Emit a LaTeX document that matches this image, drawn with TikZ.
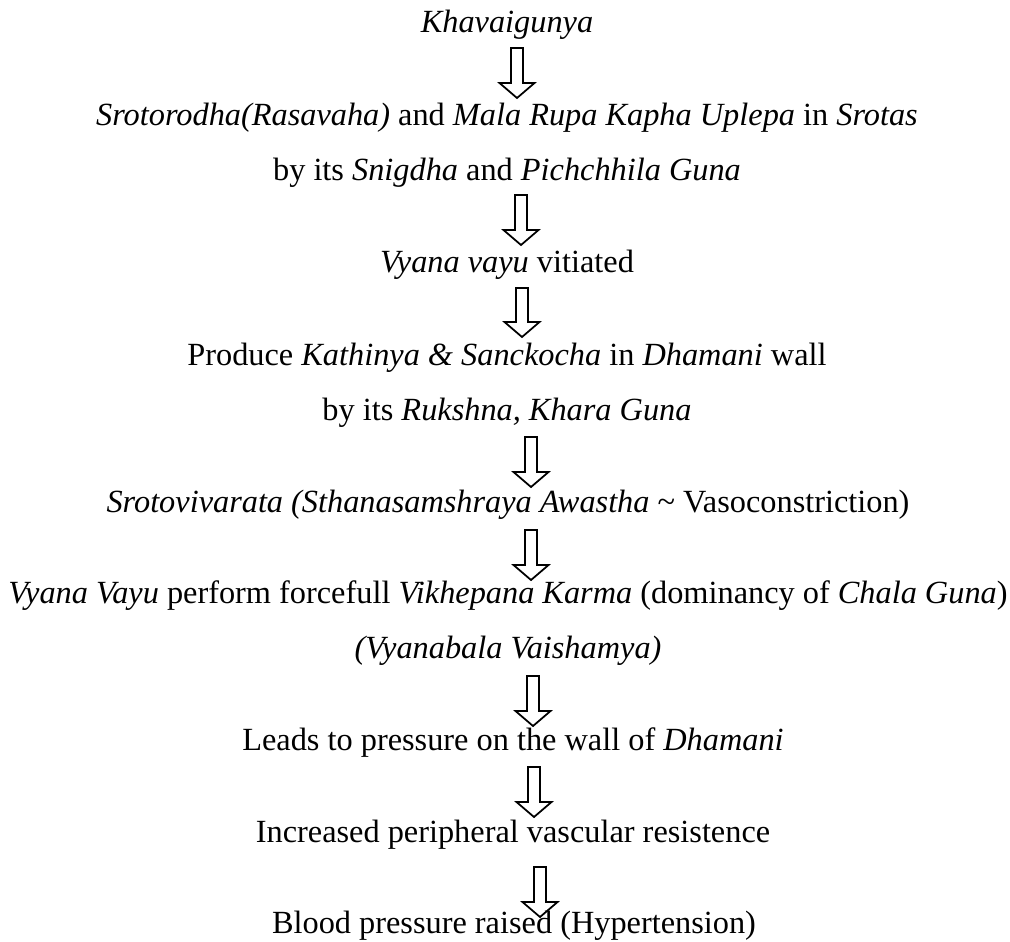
\documentclass[tikz,border=0pt]{standalone}
\usepackage{fontspec}
\setmainfont{Liberation Serif}
\usepackage{tikz}
\usetikzlibrary{calc}

\tikzset{
  txt/.style={anchor=base, inner sep=0pt, font=\fontsize{18.4}{22}\selectfont},
  blockarrow/.style={line width=1pt, line join=miter}
}

\begin{document}
\begin{tikzpicture}[x=0.02cm, y=-0.02cm]
  \useasboundingbox (0,0) rectangle (1010,941);
  \node[txt] (khav)  at (507,32)  {\textit{Khavaigunya}};
  \node[txt] (srot)  at (507,125) {\textit{Srotorodha(Rasavaha)} and \textit{Mala Rupa Kapha Uplepa} in \textit{Srotas}};
  \node[txt] (snig)  at (507,180) {by its \textit{Snigdha} and \textit{Pichchhila Guna}};
  \node[txt] (vyana) at (507,272) {\textit{Vyana vayu} vitiated};
  \node[txt] (prod)  at (507,365) {Produce \textit{Kathinya \& Sanckocha} in \textit{Dhamani} wall};
  \node[txt] (ruksh) at (507,420) {by its \textit{Rukshna, Khara Guna}};
  \node[txt] (vivar) at (508,512) {\textit{Srotovivarata (Sthanasamshraya Awastha} \textasciitilde{} Vasoconstriction)};
  \node[txt] (vik)   at (508,603) {\textit{Vyana Vayu} perform forcefull \textit{Vikhepana Karma} (dominancy of \textit{Chala Guna})};
  \node[txt] (bala)  at (508,658) {\textit{(Vyanabala Vaishamya)}};
  \node[txt] (leads) at (513,750) {Leads to pressure on the wall of \textit{Dhamani}};
  \node[txt] (incr)  at (513,842) {Increased peripheral vascular resistence};
  \node[txt] (bp)    at (514,933) {Blood pressure raised (Hypertension)};
  % hollow down arrows: x / top / tip
  \foreach \x/\t/\b in {517/48/98, 521/195/245, 522/288/337, 531/437/487,
                        531/530/580, 533/676/726, 534/767/817, 540/867/917}
    \draw[blockarrow] (\x-6,\t) -- (\x+6,\t) -- (\x+6,\b-15) -- (\x+17.5,\b-15)
      -- (\x,\b) -- (\x-17.5,\b-15) -- (\x-6,\b-15) -- cycle;
\end{tikzpicture}
\end{document}
